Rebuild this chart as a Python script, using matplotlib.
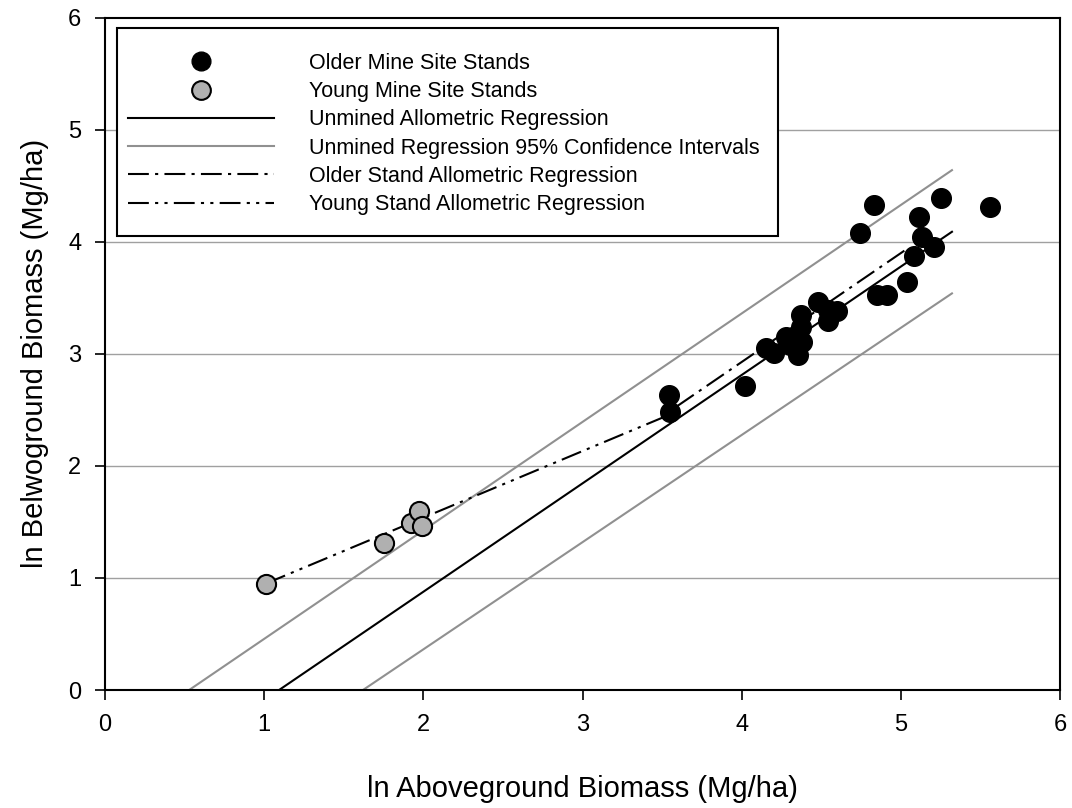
#!/usr/bin/env python3
"""
Belowground vs aboveground biomass for mine site stands with allometric regressions.
"""

import matplotlib
matplotlib.use('Agg')
import matplotlib.pyplot as plt
from matplotlib.lines import Line2D
from matplotlib.patches import Rectangle

plt.rcParams['font.family'] = ['Liberation Sans', 'DejaVu Sans']

# Older mine site stands (ln aboveground, ln belowground)
older_x = [3.54, 3.55, 4.02, 4.15, 4.20, 4.28, 4.30, 4.37, 4.37, 4.35, 4.38,
           4.48, 4.54, 4.60, 4.54, 4.74, 4.83, 4.85, 4.91, 5.04, 5.08, 5.13,
           5.21, 5.11, 5.25, 5.56]
older_y = [2.63, 2.48, 2.71, 3.05, 3.01, 3.15, 3.08, 3.35, 3.24, 2.99, 3.11,
           3.46, 3.39, 3.38, 3.29, 4.08, 4.33, 3.53, 3.53, 3.64, 3.87, 4.04,
           3.95, 4.22, 4.39, 4.31]

# Young mine site stands
young_x = [1.01, 1.75, 1.92, 1.97, 1.99]
young_y = [0.95, 1.31, 1.49, 1.60, 1.46]

# Regression lines (end points)
unmined_x = [1.093, 5.32]
unmined_y = [0.0, 4.09]
ci_upper_x = [0.528, 5.32]
ci_upper_y = [0.0, 4.64]
ci_lower_x = [1.62, 5.32]
ci_lower_y = [0.0, 3.54]
older_reg_x = [3.59, 5.03]
older_reg_y = [2.53, 3.93]
young_reg_x = [1.01, 3.55]
young_reg_y = [0.95, 2.46]

labels = ['Older Mine Site Stands',
          'Young Mine Site Stands',
          'Unmined Allometric Regression',
          'Unmined Regression 95% Confidence Intervals',
          'Older Stand Allometric Regression',
          'Young Stand Allometric Regression']


def main():
    fig = plt.figure(figsize=(10.72, 8.08), dpi=100)
    ax = fig.add_axes([0.098, 0.146, 0.891, 0.832])

    for yv in [1, 2, 3, 4, 5]:
        ax.axhline(yv, color='#a0a0a0', lw=1.0, zorder=0)

    grey = '#909090'
    dash_dot = (0, (10, 3, 1.5, 3))
    dash_dot_dot = (0, (10, 3, 1.5, 3, 1.5, 3))

    ax.plot(ci_upper_x, ci_upper_y, color=grey, lw=1.5, zorder=1)
    ax.plot(ci_lower_x, ci_lower_y, color=grey, lw=1.5, zorder=1)
    ax.plot(unmined_x, unmined_y, color='black', lw=1.5, zorder=1)
    ax.plot(older_reg_x, older_reg_y, color='black', lw=1.5,
            linestyle=dash_dot, zorder=1)
    ax.plot(young_reg_x, young_reg_y, color='black', lw=1.5,
            linestyle=dash_dot_dot, zorder=1)

    ax.scatter(older_x, older_y, s=200, c='black', edgecolors='black',
               linewidths=1.0, zorder=3)
    ax.scatter(young_x, young_y, s=190, c='#b0b0b0', edgecolors='black',
               linewidths=1.5, zorder=3)

    ax.set_xlim(0, 6)
    ax.set_ylim(0, 6)
    ax.set_xticks(range(0, 7))
    ax.set_yticks(range(0, 7))
    ax.tick_params(direction='out', length=7, width=1.2, labelsize=17,
                   pad=10)
    for sp in ax.spines.values():
        sp.set_linewidth(1.5)

    ax.set_xlabel('ln Aboveground Biomass (Mg/ha)', fontsize=21, labelpad=28)
    ax.set_ylabel('ln Belwoground Biomass (Mg/ha)', fontsize=21, labelpad=14)

    # legend frame drawn separately so padding can differ per side
    frame = Rectangle((0.0126, 0.6756), 0.6921, 0.3095,
                      transform=ax.transAxes, facecolor='white',
                      edgecolor='black', lw=1.5, zorder=4)
    ax.add_patch(frame)

    handles = [
        Line2D([], [], marker='o', linestyle='none', markersize=13.5,
               markerfacecolor='black', markeredgecolor='black'),
        Line2D([], [], marker='o', linestyle='none', markersize=13.5,
               markerfacecolor='#b0b0b0', markeredgecolor='black',
               markeredgewidth=1.5),
        Line2D([], [], color='black', lw=1.5),
        Line2D([], [], color=grey, lw=1.5),
        Line2D([], [], color='black', lw=1.5, linestyle=dash_dot),
        Line2D([], [], color='black', lw=1.5, linestyle=dash_dot_dot),
    ]
    leg = ax.legend(handles, labels, loc='upper left',
                    bbox_to_anchor=(0.0241, 0.948), fontsize=15.5,
                    handlelength=6.8, handletextpad=1.6, borderpad=0,
                    labelspacing=0.34, borderaxespad=0, frameon=False)
    leg.set_zorder(5)

    fig.savefig('out.png', dpi=100)


if __name__ == "__main__":
    main()
